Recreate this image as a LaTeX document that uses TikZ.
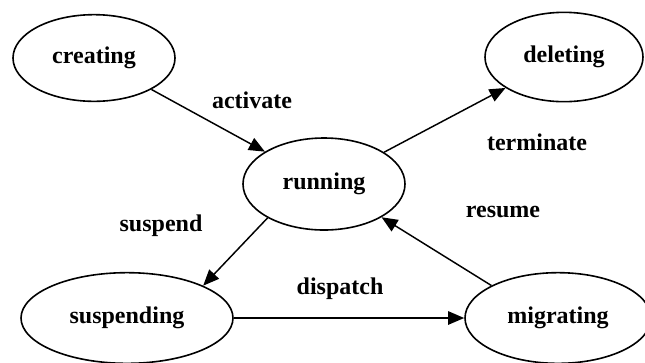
\documentclass[tikz,border=0pt]{standalone}
\usepackage{fontspec}
\setmainfont{Liberation Serif}
\usetikzlibrary{shapes.geometric,arrows.meta}

\tikzset{every picture/.style={line width=1.1pt}}
\tikzset{
  state/.style={draw,ellipse,inner sep=0pt,line width=1.2pt,font=\bfseries\fontsize{18}{21}\selectfont},
  label/.style={inner sep=0.75pt,font=\bfseries\fontsize{18}{21}\selectfont},
  trans/.style={-{Triangle[length=12pt,width=10pt]}}
}

\begin{document}
\begin{tikzpicture}[x=0.75pt,y=0.75pt,yscale=-1,xscale=1]
        \useasboundingbox (0,0) rectangle (645,362);

        % States
        \node [state, minimum width=121.5pt, minimum height=65pt] (creating) at (94,58) {creating};
        \node [state, minimum width=118.5pt, minimum height=67pt] (deleting) at (564,57) {deleting};
        \node [state, minimum width=121.5pt, minimum height=69pt] (running) at (324,184) {running};
        \node [state, minimum width=159pt, minimum height=68pt] (suspending) at (127,318) {suspending};
        \node [state, minimum width=139.5pt, minimum height=68pt] (migrating) at (558,318) {migrating};

        % Transitions
        \draw [trans] (creating) -- (running);
        \draw [trans] (running) -- (deleting);
        \draw [trans] (running.211) -- (suspending.23);
        \draw [trans] (suspending.east) -- (migrating.west);
        \draw [trans] (migrating.154) -- (running.330);

        % Text Node
        \node [label] (activate) at (252,100) {activate};
        % Text Node
        \node [label] (terminate) at (537,142) {terminate};
        % Text Node
        \node [label] (suspend) at (161,226) {suspend};
        % Text Node
        \node [label] (resume) at (503,212) {resume};
        % Text Node
        \node [label] (dispatch) at (340,289) {dispatch};

\end{tikzpicture}
\end{document}
